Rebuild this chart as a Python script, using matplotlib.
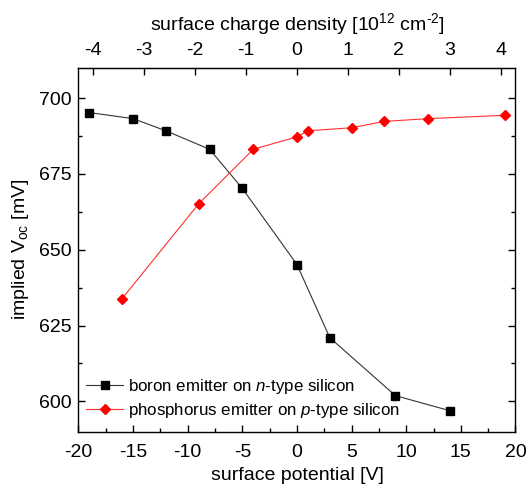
import numpy as np
import matplotlib.pyplot as plt
from matplotlib.ticker import MultipleLocator

plt.rcParams['font.family'] = ['Liberation Sans', 'DejaVu Sans']
plt.rcParams['mathtext.fontset'] = 'custom'
plt.rcParams['mathtext.rm'] = 'Liberation Sans'
plt.rcParams['mathtext.it'] = 'Liberation Sans:italic'
plt.rcParams['axes.unicode_minus'] = False

# boron emitter on n-type silicon
boron_v = [-19, -15, -12, -8, -5, 0, 3, 9, 14]
boron_voc = [695.2, 693.2, 689.2, 683.1, 670.2, 645.1, 621.0, 601.9, 596.9]

# phosphorus emitter on p-type silicon
phos_v = [-16, -9, -4, 0, 1, 5, 8, 12, 19]
phos_voc = [633.9, 665.1, 683.1, 687.2, 689.2, 690.2, 692.3, 693.2, 694.3]

# volts per 10^12 cm^-2 for the top axis
volt_per_charge = 4.66

fig = plt.figure(figsize=(5.26, 4.87), dpi=100)
ax = fig.add_axes([0.1492, 0.1136, 0.8308, 0.7474])

ax.plot(boron_v, boron_voc, color='#333333', lw=0.8, marker='s', ms=6,
        mfc='black', mec='black', label='boron emitter on $\\mathit{n}$-type silicon')
ax.plot(phos_v, phos_voc, color='#ff3030', lw=0.8, marker='D', ms=5.2,
        mfc='red', mec='red', label='phosphorus emitter on $\\mathit{p}$-type silicon')

ax.set_xlim(-20, 20)
ax.set_ylim(590, 710)
ax.xaxis.set_major_locator(MultipleLocator(5))
ax.xaxis.set_minor_locator(MultipleLocator(2.5))
ax.yaxis.set_major_locator(MultipleLocator(25))
ax.yaxis.set_minor_locator(MultipleLocator(12.5))
ax.tick_params(which='both', direction='in', top=False, right=True, labelsize=14, width=1)
ax.tick_params(which='major', length=5)
ax.tick_params(which='minor', length=3)
ax.tick_params(axis='x', pad=9)
ax.tick_params(axis='y', pad=5)
for s in ax.spines.values():
    s.set_linewidth(1)

ax.set_xlabel('surface potential [V]', fontsize=14, labelpad=4)
ax.set_ylabel('implied V$_{\\mathregular{oc}}$ [mV]', fontsize=14, labelpad=6)

top = ax.secondary_xaxis('top', functions=(lambda v: v / volt_per_charge,
                                           lambda c: c * volt_per_charge))
top.set_xticks(np.arange(-4, 5, 1))
top.tick_params(direction='in', labelsize=14, length=5, width=1, pad=6)
top.set_xlabel('surface charge density [10$^{\\mathregular{12}}$ cm$^{\\text{-2}}$]',
               fontsize=14, labelpad=9)

ax.legend(loc='lower left', bbox_to_anchor=(-0.01, 0.0), frameon=False,
          fontsize=12.2, handlelength=2.2, handletextpad=0.3, labelspacing=0.3,
          borderaxespad=0.3)

fig.savefig('out.png', dpi=100)
